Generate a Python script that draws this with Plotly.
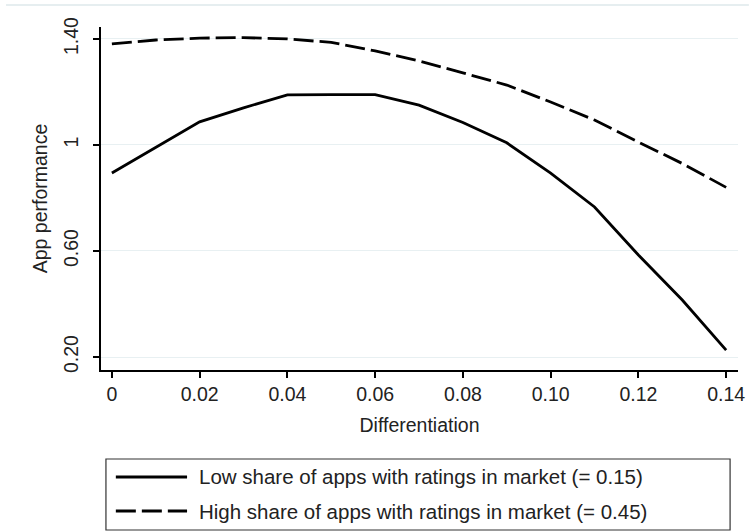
import plotly.graph_objects as go

# Predicted app performance by differentiation level
differentiation = [0.00, 0.01, 0.02, 0.03, 0.04, 0.05, 0.06, 0.07, 0.08, 0.09, 0.10, 0.11, 0.12, 0.13, 0.14]
perf_low_share = [0.894, 0.99, 1.087, 1.14, 1.189, 1.19, 1.19, 1.15, 1.085, 1.008, 0.894, 0.766, 0.585, 0.415, 0.226]
perf_high_share = [1.381, 1.396, 1.403, 1.405, 1.40, 1.387, 1.355, 1.317, 1.272, 1.226, 1.162, 1.094, 1.011, 0.93, 0.84]

series_names = [
    "Low share of apps with ratings in market (= 0.15)",
    "High share of apps with ratings in market (= 0.45)",
]
series_dash = ["solid", "20px,6px"]

y_tick_vals = [0.2, 0.6, 1.0, 1.4]
y_tick_text = ["0.20", "0.60", "1", "1.40"]
x_tick_vals = [0, 0.02, 0.04, 0.06, 0.08, 0.10, 0.12, 0.14]
x_tick_text = ["0", "0.02", "0.04", "0.06", "0.08", "0.10", "0.12", "0.14"]

W, H = 756, 531
M_L, M_R, M_T, M_B = 101, 11, 27, 161
PW, PH = W - M_L - M_R, H - M_T - M_B


def px(x):
    return (x - M_L) / PW


def py(y):
    return (H - M_B - y) / PH


fig = go.Figure()
for ys, name, dash in zip([perf_low_share, perf_high_share], series_names, series_dash):
    fig.add_trace(go.Scatter(
        x=differentiation, y=ys, mode="lines", name=name,
        line=dict(color="black", width=2.8, dash=dash),
        showlegend=False,
    ))

font = "Liberation Sans, Arial, sans-serif"
FS = 19.5

fig.update_layout(
    width=W, height=H,
    margin=dict(l=M_L, r=M_R, t=M_T, b=M_B),
    paper_bgcolor="white", plot_bgcolor="white",
    font=dict(family=font, size=FS, color="#222"),
    xaxis=dict(
        range=[-0.00248, 0.1427],
        tickvals=x_tick_vals, ticktext=x_tick_text,
        ticks="outside", ticklen=6, tickwidth=1.5, tickcolor="black",
        showline=True, linecolor="black", linewidth=1.5,
        showgrid=False, zeroline=False,
        title=dict(text="Differentiation", font=dict(size=FS), standoff=14),
        tickfont=dict(size=FS),
    ),
    yaxis=dict(
        range=[0.151, 1.445],
        tickvals=y_tick_vals, ticktext=y_tick_text, tickangle=-90,
        ticks="outside", ticklen=6, tickwidth=1.5, tickcolor="black",
        showline=True, linecolor="black", linewidth=1.5,
        showgrid=True, gridcolor="#e8f0f2", gridwidth=1.2,
        zeroline=False, ticklabelstandoff=7,
        title=dict(text="App performance", font=dict(size=FS), standoff=8),
        tickfont=dict(size=FS),
    ),
)

shapes = [
    # faint frame edge along the top of the graph region
    dict(type="line", xref="paper", yref="paper",
         x0=px(5), x1=px(W), y0=py(5), y1=py(5),
         line=dict(color="#e6eef0", width=2)),
    # legend box
    dict(type="rect", xref="paper", yref="paper",
         x0=px(106), x1=px(737), y0=py(459), y1=py(530),
         line=dict(color="#333", width=1.2), fillcolor="white"),
]
annotations = []
for i, (name, dash) in enumerate(zip(series_names, series_dash)):
    ly = 477 + i * 34
    shapes.append(dict(type="line", xref="paper", yref="paper",
                       x0=px(116), x1=px(188), y0=py(ly), y1=py(ly),
                       line=dict(color="black", width=2.8, dash=dash)))
    annotations.append(dict(xref="paper", yref="paper", x=px(198), y=py(ly),
                            text=name, showarrow=False, xanchor="left", yanchor="middle",
                            font=dict(size=20.5, color="#222", family=font)))

fig.update_layout(shapes=shapes, annotations=annotations)

fig.write_html("out.html")
